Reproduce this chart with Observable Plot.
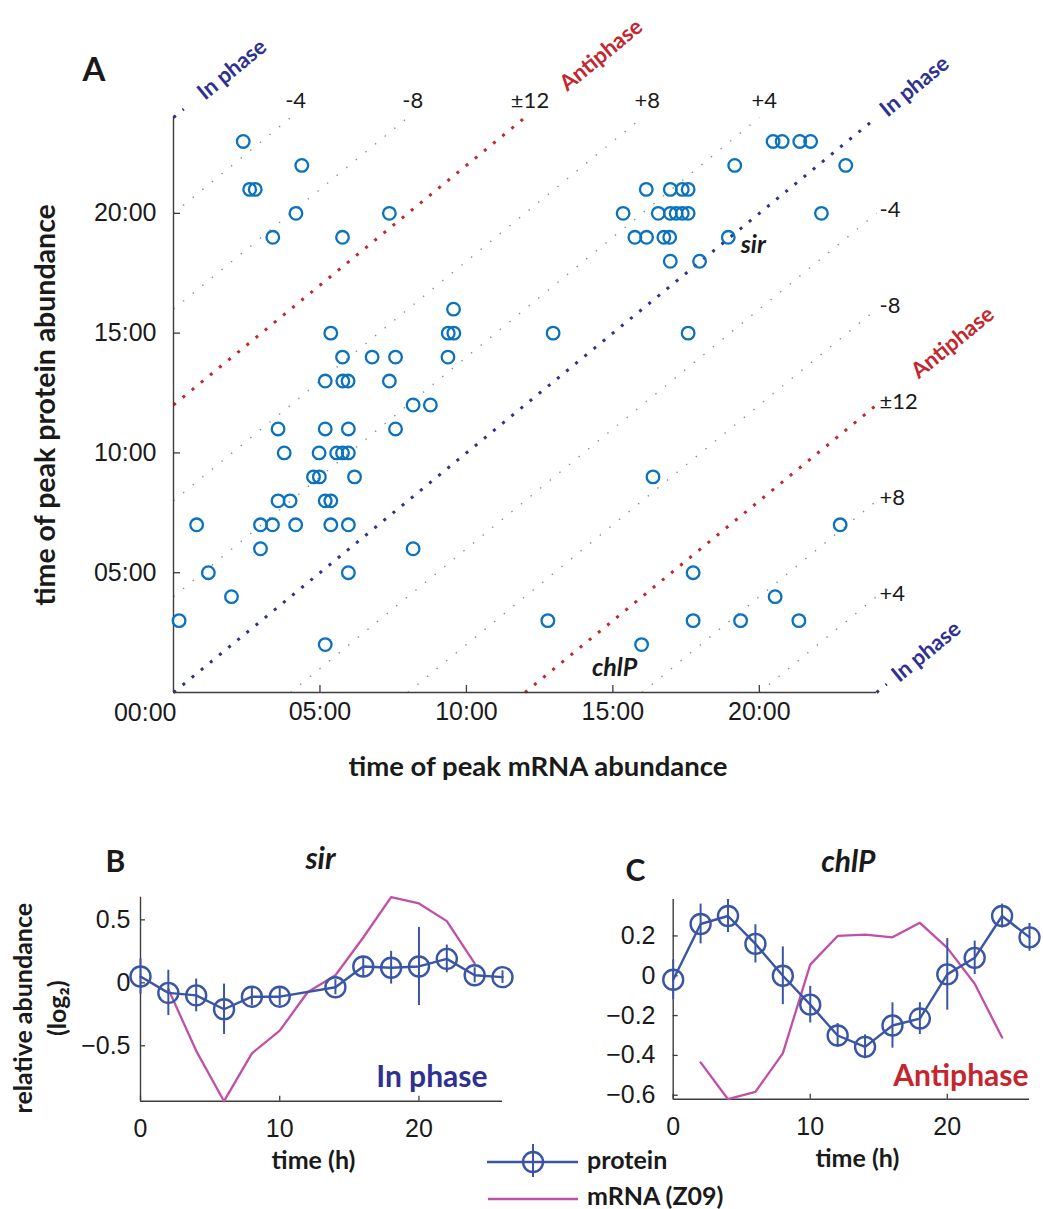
<!DOCTYPE html>
<html><head><meta charset="utf-8">
<script src="https://cdn.jsdelivr.net/npm/d3@7"></script>
<script src="https://cdn.jsdelivr.net/npm/@observablehq/plot@0.6"></script>
<style>
body{margin:0;background:#fff;}
#fig{position:relative;width:1043px;height:1209px;overflow:hidden;background:#fff;}
#fig svg{position:absolute;overflow:visible;}
</style></head><body><div id="fig"></div>
<script>
// ===================== DATA =====================
// Panel A: time of peak mRNA (x, hours) and time of peak protein (y, hours)
const peakMrna = [
  2.38, 20.47, 20.78, 21.38, 21.75,                       // 23h
  4.38, 19.16, 22.95,                                     // 22h
  2.60, 2.79, 16.14, 16.96, 17.37, 17.57,                 // 21h
  4.18, 7.37, 15.35, 16.55, 16.96, 17.16, 17.37, 17.57, 22.12, // 20h
  3.39, 5.77, 15.75, 16.15, 16.74, 16.94, 18.94,          // 19h
  16.96, 17.96,                                           // 18h
  9.56,                                                   // 16h
  5.37, 9.38, 9.57, 12.96, 17.57,                         // 15h
  5.77, 6.78, 7.58, 9.37,                                 // 14h
  5.18, 5.78, 5.96, 7.37,                                 // 13h
  8.18, 8.77,                                             // 12h
  3.57, 5.18, 5.97, 7.58,                                 // 11h
  3.78, 4.97, 5.57, 5.77, 5.97,                           // 10h
  4.78, 4.98, 6.18, 16.37,                                // 9h
  3.57, 3.98, 5.18, 5.37,                                 // 8h
  0.79, 2.97, 3.38, 4.17, 5.37, 5.97, 22.76,              // 7h
  2.97, 8.18,                                             // 6h
  1.19, 5.97, 17.74,                                      // 5h
  1.98, 20.54,                                            // 4h
  0.19, 12.78, 17.74, 19.36, 21.35,                       // 3h
  5.18, 15.98                                             // 2h
];
const peakProtein = [
  23,23,23,23,23,
  22,22,22,
  21,21,21,21,21,21,
  20,20,20,20,20,20,20,20,20,
  19,19,19,19,19,19,19,
  18,18,
  16,
  15,15,15,15,15,
  14,14,14,14,
  13,13,13,13,
  12,12,
  11,11,11,11,
  10,10,10,10,10,
  9,9,9,9,
  8,8,8,8,
  7,7,7,7,7,7,7,
  6,6,
  5,5,5,
  4,4,
  3,3,3,3,3,
  2,2
];
const clockTicks = [5, 10, 15, 20];
const inPhaseOffsets = [0, 24, -24];
const antiphaseOffsets = [12, -12];
const grayOffsets = [4, 8, 16, 20, -4, -8, -16, -20];
const topOffsets = [20, 16, 12, 8, 4];
const topLabels = ["-4", "-8", "\u00B112", "+8", "+4"];
const rightOffsets = [-4, -8, -12, -16, -20];
const rightLabels = ["-4", "-8", "\u00B112", "+8", "+4"];
const phaseNames = ["In phase", "Antiphase", "In phase", "Antiphase", "In phase"];
const phaseNameOffsets = [24, 12, 0, -12, -24];
const phaseNameAt = [2.0, 14.6, 25.3, 26.6, 25.7];
const geneNames = ["sir", "chlP"];
const geneMrna = [18.94, 15.98];
const geneProtein = [19, 2];

// Panel B: sir
const sirProteinTime = [0, 2, 4, 6, 8, 10, 14, 16, 18, 20, 22, 24, 26];
const sirProtein    = [0.05, -0.08, -0.10, -0.21, -0.11, -0.11, -0.035, 0.13, 0.12, 0.13, 0.19, 0.06, 0.045];
const sirProteinErr = [0.14, 0.18, 0.13, 0.20, 0.07, 0.07, 0.06, 0.08, 0.13, 0.31, 0.11, 0.06, 0.05];
const sirMrnaTime = [2, 4, 6, 8, 10, 12, 14, 16, 18, 20, 22, 24];
const sirMrna     = [-0.05, -0.54, -0.94, -0.56, -0.38, -0.075, 0.06, 0.36, 0.68, 0.63, 0.49, 0.155];

// Panel C: chlP
const chlPProteinTime = [0, 2, 4, 6, 8, 10, 12, 14, 16, 18, 20, 22, 24, 26];
const chlPProtein    = [-0.02, 0.26, 0.30, 0.16, 0.0, -0.145, -0.30, -0.357, -0.25, -0.215, 0.007, 0.09, 0.30, 0.193];
const chlPProteinErr = [0.10, 0.10, 0.083, 0.096, 0.145, 0.092, 0.06, 0.06, 0.114, 0.08, 0.18, 0.084, 0.06, 0.07];
const chlPMrnaTime = [2, 4, 6, 8, 10, 12, 14, 16, 18, 20, 22, 24];
const chlPMrna     = [-0.435, -0.62, -0.583, -0.39, 0.056, 0.20, 0.207, 0.193, 0.266, 0.14, -0.04, -0.31];

const timeTicks = [0, 10, 20];
const sirTicks = [-0.5, 0, 0.5];
const chlPTicks = [-0.6, -0.4, -0.2, 0, 0.2];

// ===================== STYLE =====================
const PT_BLUE = "#0b72bd";
const NAVY = "#2e3192";
const RED = "#c4262e";
const PROT = "#3a55a5";
const MRNA = "#c04fa6";
const AXIS = "#3d3d3d";
const INK = "#1a1a1a";
const HUM = "Lato, 'Open Sans', sans-serif";
const HELV = "'Liberation Sans', Arial, sans-serif";

const fig = document.getElementById("fig");
function place(node, left, top) { node.style.left = left + "px"; node.style.top = top + "px"; fig.appendChild(node); }

const fmtClock = d => String(d).padStart(2, "0") + ":00";
const fmtNum = d => d === 0 ? "0" : d3.format(".1f")(d);

// ===================== PANEL A =====================
const A_W = 1043, A_H = 830, A_ML = 173, A_MR = 167, A_MT = 117, A_MB = 138;
const frameW = A_W - A_ML - A_MR, frameH = A_H - A_MT - A_MB;
const diagAngle = -Math.atan2(frameH, frameW) * 180 / Math.PI;

function segments(offsets, ext = 0) {
  return offsets.map(d => {
    const x1 = Math.max(0, -d);
    let x2 = Math.min(24, 24 - d);
    if (x2 - x1 < 1e-9) x2 = x1 + ext;
    return {x1, y1: x1 + d, x2, y2: x2 + d};
  });
}
const pts = peakMrna.map((x, i) => ({x, y: peakProtein[i]}));
const phaseNameData = phaseNames.map((t, i) => ({t, d: phaseNameOffsets[i], at: phaseNameAt[i]}));
const topData = topOffsets.map((d, i) => ({d, t: topLabels[i]}));
const rightData = rightOffsets.map((d, i) => ({d, t: rightLabels[i]}));
const geneData = geneNames.map((g, i) => ({g, x: geneMrna[i], y: geneProtein[i]}));
const linkOpts = {x1: "x1", y1: "y1", x2: "x2", y2: "y2"};
const geneStyle = {x: "x", y: "y", text: "g", textAnchor: "middle", lineAnchor: "middle", fontFamily: HUM, fontWeight: "bold", fontStyle: "italic", fontSize: 25, fill: INK};

const chartA = Plot.plot({
  width: A_W, height: A_H,
  marginLeft: A_ML, marginRight: A_MR, marginTop: A_MT, marginBottom: A_MB,
  x: {domain: [0, 24]}, y: {domain: [0, 24]},
  style: {fontFamily: HELV, fontSize: "25px", color: INK, background: "transparent", overflow: "visible"},
  marks: [
    Plot.link(segments(grayOffsets), {...linkOpts, stroke: "#8a8a8a", strokeWidth: 1.4, strokeDasharray: "1.4,11"}),
    Plot.link(segments(antiphaseOffsets), {...linkOpts, stroke: RED, strokeWidth: 3, strokeDasharray: "3,8.8"}),
    Plot.link(segments(inPhaseOffsets, 0.35), {...linkOpts, stroke: NAVY, strokeWidth: 3, strokeDasharray: "3,8.8"}),
    Plot.ruleX([0], {stroke: AXIS, strokeWidth: 1.4}),
    Plot.ruleY([0], {stroke: AXIS, strokeWidth: 1.4}),
    Plot.ruleY(clockTicks, {y: d => d, x1: 0, x2: 0, insetRight: -7, stroke: AXIS, strokeWidth: 1.3}),
    Plot.ruleX(clockTicks, {x: d => d, y1: 0, y2: 0, insetTop: -7, stroke: AXIS, strokeWidth: 1.3}),
    Plot.axisX({ticks: clockTicks, tickSize: 0, tickPadding: 10, tickFormat: fmtClock, label: null, fontSize: 25}),
    Plot.axisY({ticks: clockTicks, tickSize: 0, tickPadding: 17, tickFormat: fmtClock, label: null, fontSize: 25}),
    Plot.text([0], {x: d => d, y: d => d, text: fmtClock, textAnchor: "end", lineAnchor: "bottom", dx: 3, dy: 28, fontSize: 25}),
    Plot.dot(pts, {x: "x", y: "y", r: 6.3, stroke: PT_BLUE, strokeWidth: 2.3, fill: "none"}),
    // phase names along diagonals
    Plot.text(phaseNameData.filter(p => p.t === "In phase"), {x: "at", y: p => p.at + p.d, text: "t", rotate: diagAngle, textAnchor: "middle", lineAnchor: "middle", fill: NAVY, fontFamily: HUM, fontWeight: "bold", fontSize: 22}),
    Plot.text(phaseNameData.filter(p => p.t === "Antiphase"), {x: "at", y: p => p.at + p.d, text: "t", rotate: diagAngle, textAnchor: "middle", lineAnchor: "middle", fill: RED, fontFamily: HUM, fontWeight: "bold", fontSize: 22}),
    // offset labels
    Plot.text(topData, {x: p => 24 - p.d, y: 24, text: "t", textAnchor: "middle", lineAnchor: "middle", dx: 5, dy: -17, fontFamily: HUM, fontSize: 22, fill: INK}),
    Plot.text(rightData, {x: 24, y: p => 24 + p.d, text: "t", textAnchor: "start", lineAnchor: "middle", dx: 3, dy: -3, fontFamily: HUM, fontSize: 22, fill: INK}),
    // gene labels
    Plot.text(geneData.filter(g => g.g === "sir"), {...geneStyle, dx: 25, dy: 8}),
    Plot.text(geneData.filter(g => g.g === "chlP"), {...geneStyle, dx: -27, dy: 23}),
    // titles
    Plot.text(["A"], {frameAnchor: "top-left", text: d => d, textAnchor: "start", lineAnchor: "bottom", dx: -91, dy: -37, fontFamily: HUM, fontWeight: "bold", fontSize: 33, fill: INK}),
    Plot.text(["time of peak mRNA abundance"], {frameAnchor: "bottom", text: d => d, textAnchor: "middle", lineAnchor: "bottom", dx: 13, dy: 83, fontFamily: HUM, fontWeight: "bold", fontSize: 27.5, fill: INK}),
    Plot.text(["time of peak protein abundance"], {frameAnchor: "left", text: d => d, rotate: -90, textAnchor: "middle", lineAnchor: "middle", dx: -128, dy: 0, fontFamily: HUM, fontWeight: "bold", fontSize: 28.5, fill: INK})
  ]
});
place(chartA, 0, 0);

// ===================== PANELS B & C =====================
function timeCourse({width, ml, mr, mt, mb, pTime, pVal, pErr, mTime, mVal, ticks, yPad, letter, letterDx, letterDy, title, titleDx, titleDy, phase, phaseColor, phaseDx, phaseDy, xlabDx, ylab}) {
  const prot = pTime.map((t, i) => ({t, v: pVal[i], e: pErr[i]}));
  const mrna = mTime.map((t, i) => ({t, v: mVal[i]}));
  const lo = d3.min([...mVal, ...prot.map(p => p.v - p.e)]);
  const hi = d3.max([...mVal, ...prot.map(p => p.v + p.e)]);
  const marks = [
    Plot.ruleX([0], {stroke: AXIS, strokeWidth: 1.4}),
    Plot.ruleY([lo], {stroke: AXIS, strokeWidth: 1.4}),
    Plot.ruleY(ticks, {y: d => d, x1: 0, x2: 0, insetRight: -5, stroke: AXIS, strokeWidth: 1.3}),
    Plot.ruleX(timeTicks, {x: d => d, y1: lo, y2: lo, insetTop: -5, stroke: AXIS, strokeWidth: 1.3}),
    Plot.axisX({ticks: timeTicks, tickSize: 0, tickPadding: 18, label: null, fontSize: 25}),
    Plot.axisY({ticks, tickSize: 0, tickPadding: yPad, tickFormat: fmtNum, label: null, fontSize: 25}),
    Plot.line(mrna, {x: "t", y: "v", stroke: MRNA, strokeWidth: 2.3}),
    Plot.line(prot, {x: "t", y: "v", stroke: PROT, strokeWidth: 2.4}),
    Plot.ruleX(prot, {x: "t", y1: p => p.v - p.e, y2: p => p.v + p.e, stroke: PROT, strokeWidth: 2}),
    Plot.dot(prot, {x: "t", y: "v", r: 10, stroke: PROT, strokeWidth: 2.4, fill: "none"}),
    Plot.text([letter], {frameAnchor: "top-left", text: d => d, textAnchor: "start", lineAnchor: "bottom", dx: letterDx, dy: letterDy, fontFamily: HUM, fontWeight: "bold", fontSize: 30, fill: INK}),
    Plot.text([title], {frameAnchor: "top", text: d => d, textAnchor: "middle", lineAnchor: "bottom", dx: titleDx, dy: titleDy, fontFamily: HUM, fontWeight: "bold", fontStyle: "italic", fontSize: 30, fill: INK}),
    Plot.text([phase], {frameAnchor: "bottom-right", text: d => d, textAnchor: "end", lineAnchor: "bottom", dx: phaseDx, dy: phaseDy, fontFamily: HUM, fontWeight: "bold", fontSize: 30, fill: phaseColor}),
    Plot.text(["time (h)"], {frameAnchor: "bottom", text: d => d, textAnchor: "middle", lineAnchor: "bottom", dx: xlabDx, dy: 68, fontFamily: HUM, fontWeight: "bold", fontSize: 25, fill: INK})
  ];
  if (ylab) {
    marks.push(Plot.text(["relative abundance"], {frameAnchor: "left", text: d => d, rotate: -90, textAnchor: "middle", lineAnchor: "middle", dx: -117, dy: 9, fontFamily: HUM, fontWeight: "bold", fontSize: 25, fill: INK}));
    marks.push(Plot.text(["(log\u2082)"], {frameAnchor: "left", text: d => d, rotate: -90, textAnchor: "middle", lineAnchor: "middle", dx: -83, dy: 9, fontFamily: HUM, fontWeight: "bold", fontSize: 25, fill: INK}));
  }
  return Plot.plot({
    width, height: 379, marginLeft: ml, marginRight: mr, marginTop: mt, marginBottom: mb,
    x: {domain: [0, 26]}, y: {domain: [lo, hi]},
    style: {fontFamily: HELV, fontSize: "25px", color: INK, background: "transparent", overflow: "visible"},
    marks
  });
}

const chartB = timeCourse({
  width: 520, ml: 140, mr: 18, mt: 66.7, mb: 108.3,
  pTime: sirProteinTime, pVal: sirProtein, pErr: sirProteinErr, mTime: sirMrnaTime, mVal: sirMrna,
  ticks: sirTicks, yPad: 10, letter: "B", letterDx: -35, letterDy: -25.7,
  title: "sir", titleDx: -1, titleDy: -28.7, phase: "In phase", phaseColor: NAVY, phaseDx: -15, phaseDy: -14,
  xlabDx: -8, ylab: true
});
place(chartB, 0, 830);

const chartC = timeCourse({
  width: 523, ml: 152.7, mr: 14, mt: 69, mb: 110.3,
  pTime: chlPProteinTime, pVal: chlPProtein, pErr: chlPProteinErr, mTime: chlPMrnaTime, mVal: chlPMrna,
  ticks: chlPTicks, yPad: 17.7, letter: "C", letterDx: -47.7, letterDy: -19,
  title: "chlP", titleDx: -3, titleDy: -28, phase: "Antiphase", phaseColor: RED, phaseDx: -1, phaseDy: -13.7,
  xlabDx: 6, ylab: false
});
place(chartC, 520, 830);

// ===================== LEGEND =====================
const leg = d3.create("svg").attr("width", 300).attr("height", 74);
const lg = leg.append("g").attr("transform", "translate(-480,-1135)");
lg.append("line").attr("x1", 487).attr("x2", 578).attr("y1", 1162).attr("y2", 1162).attr("stroke", PROT).attr("stroke-width", 2.4);
lg.append("line").attr("x1", 533).attr("x2", 533).attr("y1", 1144).attr("y2", 1177).attr("stroke", PROT).attr("stroke-width", 2);
lg.append("circle").attr("cx", 533).attr("cy", 1162).attr("r", 10).attr("fill", "none").attr("stroke", PROT).attr("stroke-width", 2.4);
lg.append("text").attr("x", 587).attr("y", 1169).text("protein").attr("font-family", HUM).attr("font-weight", "bold").attr("font-size", 25).attr("fill", INK);
lg.append("line").attr("x1", 488).attr("x2", 578).attr("y1", 1199).attr("y2", 1199).attr("stroke", MRNA).attr("stroke-width", 2.3);
lg.append("text").attr("x", 587).attr("y", 1205).text("mRNA (Z09)").attr("font-family", HUM).attr("font-weight", "bold").attr("font-size", 25).attr("fill", INK);
place(leg.node(), 480, 1135);
</script></body></html>
